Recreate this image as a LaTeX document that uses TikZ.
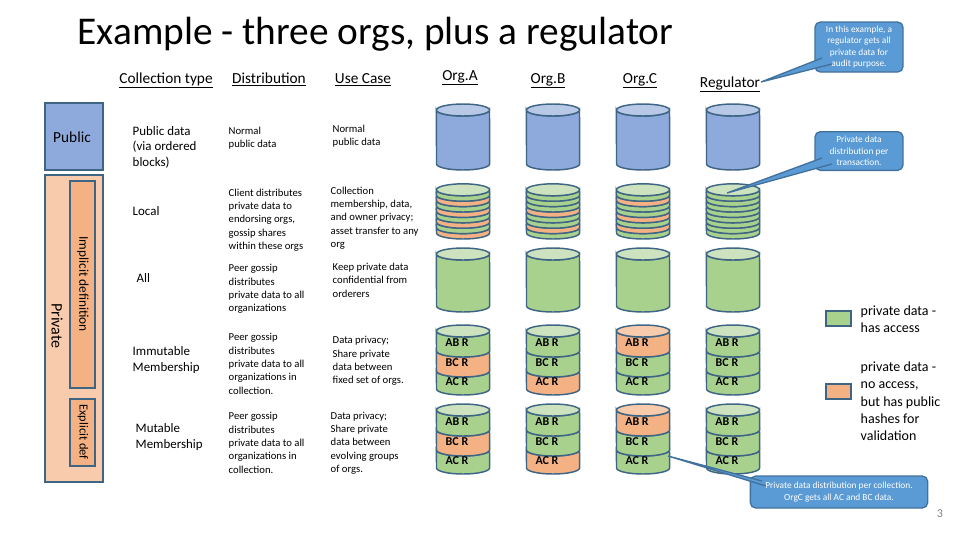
\documentclass[tikz,border=0pt]{standalone}
\usepackage{fontspec}
\setmainfont{Carlito}
\definecolor{cline}{HTML}{3F6585}
\definecolor{blueb}{HTML}{8EA9DB}
\definecolor{bluet}{HTML}{B8C9E8}
\definecolor{greenb}{HTML}{A9D18E}
\definecolor{greent}{HTML}{CDE3BF}
\definecolor{orb}{HTML}{F4B183}
\definecolor{ort}{HTML}{F8CBAD}
\definecolor{callf}{HTML}{5B9BD5}
\definecolor{calld}{HTML}{41719C}
\newcommand\cylbody[4]{% cx, ytop, ybot, fill
 \filldraw[fill=#4,draw=cline,line width=1.1pt] (#1-26.5,#3) arc (180:360:19.9pt and 4.5pt) -- (#1+26.5,#2) arc (360:180:19.9pt and 4.5pt) -- cycle;}
\newcommand\cyltop[3]{\filldraw[fill=#3,draw=cline,line width=1.1pt] (#1,#2) ellipse (19.9pt and 4.5pt);}
\newcommand\fullcyl[5]{\cylbody{#1}{#2}{#3}{#4}\cyltop{#1}{#2}{#5}}
\tikzset{
 hdr/.style={font=\fontsize{11.5}{13}\selectfont,anchor=base},
 ctype/.style={font=\fontsize{9.7}{11.6}\selectfont,align=left,anchor=west},
 small/.style={font=\fontsize{8}{10}\selectfont,align=left,anchor=west},
 segl/.style={font=\fontsize{9}{10}\selectfont\bfseries},
 callout/.style={rectangle,rounded corners=4pt,fill=callf,draw=calld,line width=1pt,text=white,font=\fontsize{7}{8.6}\selectfont,align=center,inner sep=2pt},
 leg/.style={font=\fontsize{10.5}{13}\selectfont,align=left,anchor=north west},
}
\begin{document}
\begin{tikzpicture}[x=0.75pt,y=-0.75pt]
\useasboundingbox (0,0) rectangle (960,540);
\node[anchor=base west,font=\fontsize{29.5}{32}\selectfont] (title) at (73,44) {Example - three orgs, plus a regulator};
% headers
\node[hdr] (h1) at (166,83) {\underline{Collection type}};
\node[hdr] (h2) at (269,83) {\underline{Distribution}};
\node[hdr] (h3) at (363,83) {\underline{Use Case}};
\node[hdr] (h4) at (460,80) {\underline{Org.A}};
\node[hdr] (h5) at (548,83) {\underline{Org.B}};
\node[hdr] (h6) at (640,83) {\underline{Org.C}};
\node[hdr] (h7) at (730,87) {\underline{Regulator}};
% left bars
\draw[fill=blueb,draw=cline,line width=1.1pt] (45,103) rectangle (103,170);
\node[font=\fontsize{11.5}{13}\selectfont] (pub) at (72,137) {Public};
\draw[fill=ort,draw=cline,line width=1.1pt] (45,175) rectangle (103,482);
\draw[fill=orb,draw=cline,line width=1.1pt] (70,181) rectangle (95,388);
\draw[fill=orb,draw=cline,line width=1.1pt] (70,399) rectangle (95,466);
\node[rotate=-90,font=\fontsize{12}{13}\selectfont] (priv) at (57,326) {Private};
\node[rotate=-90,font=\fontsize{10}{12}\selectfont] (impl) at (83,284) {Implicit definition};
\node[rotate=-90,font=\fontsize{9.3}{11}\selectfont] (expl) at (83,432) {Explicit def};
% collection types
\node[ctype] (c1) at (128,147) {Public data\\(via ordered\\blocks)};
\node[ctype] (c2) at (128,211) {Local};
\node[ctype] (c3) at (132,278) {All};
\node[ctype] (c4) at (128,360) {Immutable\\Membership};
\node[ctype] (c5) at (131,437) {Mutable\\Membership};
% distribution
\node[small] (d1) at (224,138) {Normal\\public data};
\node[small] (d2) at (224,220) {Client distributes\\private data to\\endorsing orgs,\\gossip shares\\within these orgs};
\node[small] (d3) at (224,289) {Peer gossip\\distributes\\private data to all\\organizations};
\node[small] (d4) at (224,364) {Peer gossip\\distributes\\private data to all\\organizations in\\collection.};
\node[small] (d5) at (224,443) {Peer gossip\\distributes\\private data to all\\organizations in\\collection.};
% use case
\node[small] (u1) at (328,136) {Normal\\public data};
\node[small] (u2) at (326,218) {Collection\\membership, data,\\and owner privacy;\\asset transfer to any\\org};
\node[small] (u3) at (328,280) {Keep private data\\confidential from\\orderers};
\node[small] (u4) at (328,361) {Data privacy;\\Share private\\data between\\fixed set of orgs.};
\node[small] (u5) at (326,443) {Data privacy;\\Share private\\data between\\evolving groups\\of orgs.};
% public cylinders
\foreach \cx in {463,553,643,733} {\fullcyl{\cx}{110}{164}{blueb}{bluet}}
% all cylinders
\foreach \cx in {463,553,643,733} {\fullcyl{\cx}{254}{306}{greenb}{greent}}
% local stacks (bottom to top)
\foreach \cx/\cols in {463/{orb,greenb,orb,greenb,orb,greenb,orb,greenb},
                       553/{greenb,orb,greenb,greenb,orb,greenb,greenb,greenb},
                       643/{greenb,orb,greenb,orb,greenb,greenb,orb,greenb},
                       733/{greenb,greenb,greenb,greenb,greenb,greenb,greenb,greenb}} {
  \foreach \c [count=\i] in \cols {
    \pgfmathsetmacro\yt{233-\i*5.4}
    \cylbody{\cx}{\yt}{\yt+5.4}{\c}
  }
  \cyltop{\cx}{189.8}{greent}
}
% segmented cylinders
\foreach \yy in {331,410} {
 \foreach \cx/\ca/\cb/\cc/\tp in {463/greenb/orb/greenb/greent,553/greenb/greenb/orb/greent,643/orb/greenb/greenb/ort,733/greenb/greenb/greenb/greent} {
   \cylbody{\cx}{\yy+40}{\yy+58}{\cc}
   \cylbody{\cx}{\yy+20}{\yy+40}{\cb}
   \cylbody{\cx}{\yy}{\yy+20}{\ca}
   \cyltop{\cx}{\yy}{\tp}
   \node[segl] (a\cx\yy) at (\cx-6,\yy+12) {AB R};
   \node[segl] (b\cx\yy) at (\cx-6,\yy+32) {BC R};
   \node[segl] (c\cx\yy) at (\cx-6,\yy+51) {AC R};
 }
}
% callouts
\node[callout,minimum width=66pt,minimum height=37.5pt] (k1) at (859,47) {In this example, a\\regulator gets all\\private data for\\audit purpose.};
\node[callout,minimum width=66pt,minimum height=29pt] (k2) at (859,151) {Private data\\distribution per\\transaction.};
\node[callout,minimum width=133pt,minimum height=24pt] (k3) at (839,492) {Private data distribution per collection.\\OrgC gets all AC and BC data.};
\coordinate (t1) at (761,82);
\coordinate (t2) at (727,193);
\coordinate (t3) at (668,456);
\begin{scope}[line width=1pt]
\filldraw[fill=callf,draw=calld] (822,58) -- (t1) -- (832,64);
\filldraw[fill=callf,draw=calld] (822,158) -- (t2) -- (832,164);
\filldraw[fill=callf,draw=calld] (766,486) -- (t3) -- (762,481);
\end{scope}
% legend
\draw[fill=greenb,draw=cline,line width=1.1pt] (826,311) rectangle (851,326);
\node[leg] (l1) at (856,301) {private data -\\has access};
\draw[fill=orb,draw=cline,line width=1.1pt] (826,384) rectangle (851,399);
\node[leg] (l2) at (856,357) {private data -\\no access,\\but has public\\hashes for\\validation};
\node[font=\fontsize{9}{11}\selectfont,text=gray] (pg) at (940,514) {3};
\end{tikzpicture}
\end{document}
